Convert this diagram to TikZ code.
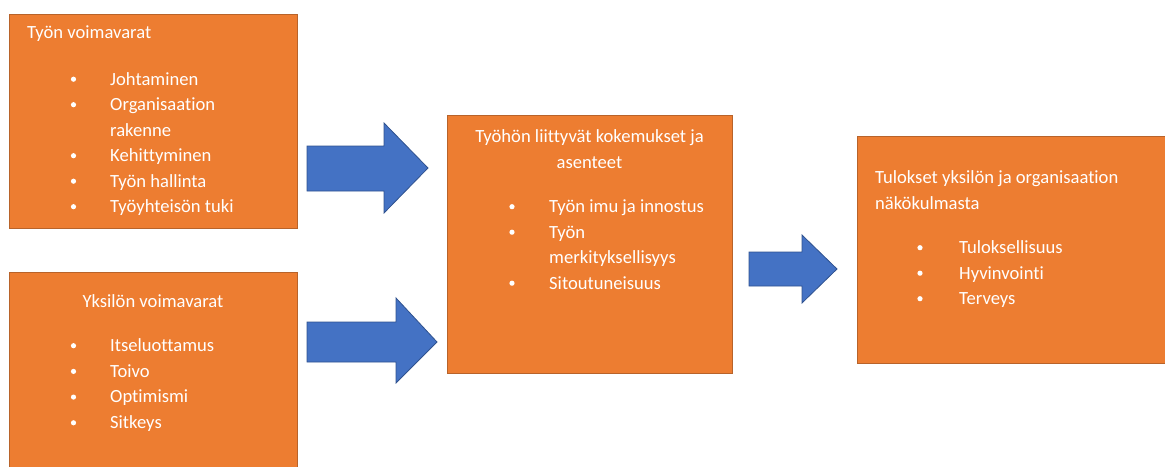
\documentclass[tikz,border=0pt]{standalone}
\usepackage{fontspec}
\setmainfont{Carlito}[Ligatures=NoCommon]
\definecolor{boxfill}{HTML}{ED7D31}
\definecolor{boxline}{HTML}{B8632A}
\definecolor{arrfill}{HTML}{4472C4}
\definecolor{arrline}{HTML}{2F528F}
\tikzset{
  panel/.style={draw=boxline, line width=1pt, fill=boxfill, inner sep=0pt, outer sep=0pt},
  txt/.style={text=white, inner sep=0pt, anchor=base west, font=\fontsize{18.6}{22}\selectfont},
  ctxt/.style={txt, anchor=base},
  dot/.style={fill=white},
  blockarrow/.style={fill=arrfill, draw=arrline, line width=0.8pt, line join=miter}
}
\begin{document}
\begin{tikzpicture}[x=1pt, y=-1pt]
\useasboundingbox (0,0) rectangle (1165,466);
\clip (0,0) rectangle (1165,466);

% panels
\node[panel, minimum width=288pt, minimum height=214pt] (tyon) at (153,121) {};
\node[panel, minimum width=288pt, minimum height=208pt] (yksilon) at (153,376) {};
\node[panel, minimum width=285pt, minimum height=258pt] (kokemus) at (589.5,244) {};
\node[panel, minimum width=318pt, minimum height=227pt] (tulos) at (1016,249.5) {};

% block arrows
\draw[blockarrow] (307,146) -- (384,146) -- (384,123) -- (428,168) -- (384,213) -- (384,191) -- (307,191) -- cycle;
\draw[blockarrow] (307,322) -- (396,322) -- (396,298) -- (437,342) -- (396,383) -- (396,362) -- (307,362) -- cycle;
\draw[blockarrow] (749,252) -- (802,252) -- (802,235) -- (837,269) -- (802,303) -- (802,286) -- (749,286) -- cycle;

% Työn voimavarat
\node[txt] (t0) at (27,38.5) {Työn voimavarat};
\foreach \y/\s/\b [count=\i] in {85/Johtaminen/1, 110.5/Organisaation/1, 136/rakenne/0, 161.5/Kehittyminen/1, 187/Työn hallinta/1, 212.5/Työyhteisön tuki/1}{
  \node[txt] (t\i) at (110,\y) {\s};
  \ifnum\b=1 \fill[dot] (73.5,\y-5.8) circle (2.6); \fi
}

% Yksilön voimavarat
\node[ctxt] (y0) at (153,307.5) {Yksilön voimavarat};
\foreach \y/\s [count=\i] in {351.5/Itseluottamus, 377.2/Toivo, 402.9/Optimismi, 428.6/Sitkeys}{
  \node[txt] (y\i) at (110,\y) {\s};
  \fill[dot] (73.5,\y-5.8) circle (2.6);
}

% Työhön liittyvät kokemukset ja asenteet
\node[ctxt] (k0) at (589.5,142.5) {Työhön liittyvät kokemukset ja};
\node[ctxt] (k0b) at (589.5,168) {asenteet};
\foreach \y/\s/\b [count=\i] in {212.5/Työn imu ja innostus/1, 238/Työn/1, 263.5/merkityksellisyys/0, 289/Sitoutuneisuus/1}{
  \node[txt] (k\i) at (549,\y) {\s};
  \ifnum\b=1 \fill[dot] (512,\y-5.8) circle (2.6); \fi
}

% Tulokset
\node[txt] (r0) at (875,183.5) {Tulokset yksilön ja organisaation};
\node[txt] (r0b) at (875,209) {näkökulmasta};
\foreach \y/\s [count=\i] in {253.5/Tuloksellisuus, 279/Hyvinvointi, 304.5/Terveys}{
  \node[txt] (r\i) at (959,\y) {\s};
  \fill[dot] (920,\y-5.8) circle (2.6);
}
\end{tikzpicture}
\end{document}
